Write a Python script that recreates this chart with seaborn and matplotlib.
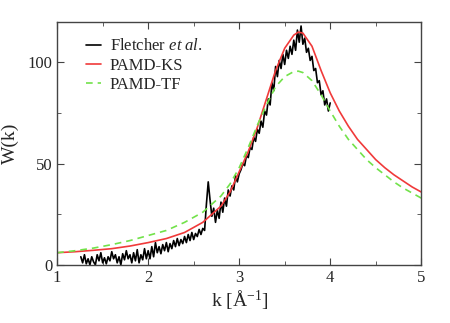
import matplotlib
matplotlib.use("Agg")
import matplotlib.pyplot as plt
import seaborn as sns
import numpy as np

k_exp = [1.26, 1.28, 1.30, 1.32, 1.34, 1.36, 1.38, 1.40, 1.42, 1.44,
         1.46, 1.48, 1.50, 1.52, 1.54, 1.56, 1.58, 1.60, 1.62, 1.64,
         1.66, 1.68, 1.70, 1.72, 1.74, 1.76, 1.78, 1.80, 1.82, 1.84,
         1.86, 1.88, 1.90, 1.92, 1.94, 1.96, 1.98, 2.00,
         2.02, 2.04, 2.06, 2.08, 2.10, 2.12, 2.14, 2.16, 2.18, 2.20,
         2.22, 2.24, 2.26, 2.28, 2.30, 2.32, 2.34, 2.36, 2.38, 2.40,
         2.42, 2.44, 2.46, 2.48, 2.50, 2.52, 2.54, 2.56, 2.58, 2.60,
         2.62, 2.64, 2.66, 2.68, 2.70, 2.72, 2.74, 2.76, 2.78, 2.80,
         2.82, 2.84, 2.86, 2.88, 2.90, 2.92, 2.94, 2.96, 2.98, 3.00,
         3.02, 3.04, 3.06, 3.08, 3.10, 3.12, 3.14, 3.16, 3.18, 3.20,
         3.22, 3.24, 3.26, 3.28, 3.30, 3.32, 3.34, 3.36, 3.38, 3.40,
         3.42, 3.44, 3.46, 3.48, 3.50, 3.52, 3.54, 3.56, 3.58, 3.60,
         3.62, 3.64, 3.66, 3.68, 3.70, 3.72, 3.74, 3.76, 3.78, 3.80,
         3.82, 3.84, 3.86, 3.88, 3.90, 3.92, 3.94, 3.96, 3.98, 4.00]
w_exp = [4, 1, 5, 0.5, 3, 0, 4, 1.5, 0, 5,
         2, 6, 1, 3.5, 0.5, 4, 2, 6.5, 3, 5,
         1, 4, 0, 5.5, 2.5, 7, 3, 5, 1, 6,
         2, 7.5, 1, 5, 2.5, 8, 3, 7,
         3, 9, 4, 11, 6, 9, 5.5, 10, 7, 11,
         6.5, 10.5, 8, 12, 9, 13, 9.5, 12.5, 10.5, 14,
         11, 15, 12, 16, 12.5, 15.5, 14, 17.5, 15, 18,
         17, 30, 41, 32, 24, 28, 21, 27, 23, 31,
         26, 33, 29, 37, 34, 39, 37, 44, 41, 45,
         47, 50, 49, 54, 53, 58, 57, 63, 61, 67,
         65, 71, 68, 76, 74, 82, 79, 90, 86, 98,
         93, 101, 97, 104, 99, 106, 102, 108, 104, 111,
         106, 116, 110, 118, 109, 112, 105, 107, 101, 103,
         96, 97, 90, 91, 84, 86, 79, 82, 76, 80]

# Model curves
k_model = [1.0, 1.2, 1.4, 1.6, 1.8, 2.0, 2.2, 2.4, 2.6, 2.8,
           2.9, 3.0, 3.1, 3.2, 3.3, 3.4, 3.5, 3.6, 3.65, 3.7,
           3.8, 3.9, 4.0, 4.1, 4.2, 4.3, 4.4, 4.5, 4.6, 4.7,
           4.8, 4.9, 5.0]
w_ks = [6.0, 6.5, 7.2, 8.0, 9.3, 11.0, 13.0, 16.0, 21.0, 29.0,
        36.0, 46.0, 56.0, 68.0, 82.0, 96.0, 107.0, 113.5, 115.0, 114.5,
        108.0, 96.0, 85.0, 76.0, 68.5, 62.0, 57.0, 52.0, 48.0, 44.5,
        41.5, 38.5, 36.0]
w_tf = [6.0, 7.0, 8.3, 10.0, 12.0, 14.5, 17.0, 21.0, 26.0, 34.0,
        40.0, 48.0, 58.0, 69.0, 79.0, 88.0, 93.0, 95.5, 95.7, 95.0,
        91.0, 84.0, 76.0, 68.5, 62.0, 57.0, 52.0, 48.0, 44.5, 41.0,
        38.0, 35.5, 33.0]

sns.set_style("ticks")
plt.rcParams["font.family"] = ["Liberation Serif", "DejaVu Serif"]
plt.rcParams["mathtext.fontset"] = "custom"
plt.rcParams["mathtext.rm"] = "Liberation Serif"
plt.rcParams["mathtext.it"] = "Liberation Serif:italic"

fig = plt.figure(figsize=(4.5, 3.23), dpi=100)
ax = fig.add_axes([0.127, 0.18, 0.809, 0.752])

sns.lineplot(x=k_exp, y=w_exp, ax=ax, color="black", lw=1.2,
             label=r"Fletcher $\mathit{et\ al.}$", sort=False)
sns.lineplot(x=k_model, y=w_ks, ax=ax, color="#f03a3a", lw=1.2,
             label="PAMD-KS", sort=False)
sns.lineplot(x=k_model, y=w_tf, ax=ax, color="#72e24a", lw=1.2,
             dashes=False, linestyle=(0, (4, 3)), label="PAMD-TF", sort=False)

ax.set_xlim(1, 5)
ax.set_ylim(0, 120)
ax.set_xticks([1, 2, 3, 4, 5])
ax.set_yticks([0, 50, 100])
ax.set_xticks(np.arange(1.5, 5, 1.0), minor=True)
ax.set_yticks([25, 75], minor=True)
ax.tick_params(which="both", direction="in", top=True, right=True,
               labelsize=12, color="#444444")
ax.tick_params(which="major", length=5)
ax.tick_params(which="minor", length=3)
for s in ax.spines.values():
    s.set_color("#444444")
    s.set_linewidth(1.0)

ax.set_xlabel(r"k [Å$^{-1}$]", fontsize=14, labelpad=2)
ax.set_ylabel("W(k)", fontsize=14, labelpad=6)

ax.legend(loc="upper left", bbox_to_anchor=(0.06, 0.96), frameon=False,
          fontsize=12, handlelength=0.9, handletextpad=0.55,
          labelspacing=0.2, borderaxespad=0)

fig.savefig("out.png", dpi=100)
